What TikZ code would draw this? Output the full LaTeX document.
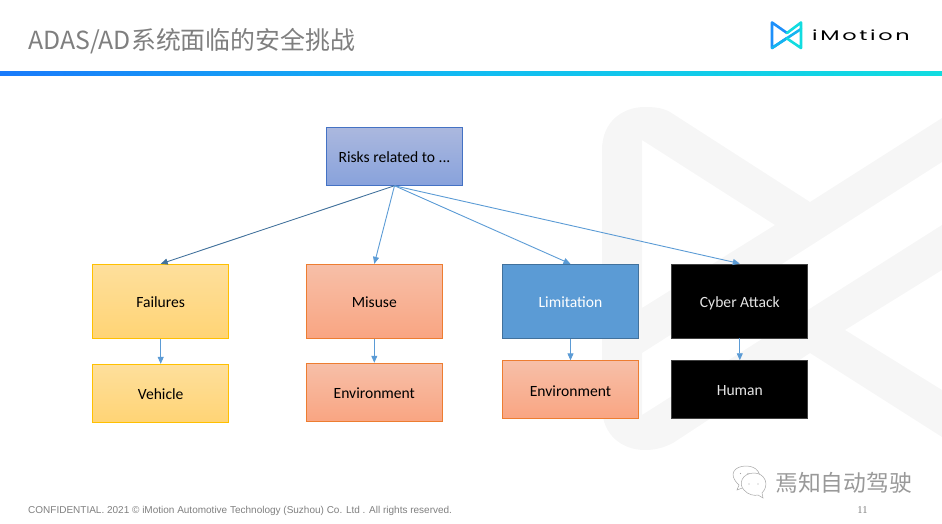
\documentclass[tikz,border=0pt]{standalone}
\usepackage{fontspec}
\setmainfont{Carlito}
\newfontfamily\cjkfont{Noto Sans CJK SC}
\newfontfamily\footfont{Liberation Sans}
\newfontfamily\logofont{Poppins}
\usetikzlibrary{arrows.meta,positioning}

\definecolor{bandgray}{HTML}{F6F6F6}
\definecolor{linkblue}{HTML}{5B9BD5}
\definecolor{linkdark}{HTML}{41719C}
\definecolor{textgray}{HTML}{7F7F7F}
\definecolor{logoleft}{HTML}{1E90FA}
\definecolor{logomid}{HTML}{14B4F0}
\definecolor{logoright}{HTML}{12DCE0}
\definecolor{yellowline}{HTML}{FFC000}
\definecolor{yellowtop}{HTML}{FEDF9C}
\definecolor{yellowbot}{HTML}{FFD475}
\definecolor{orangeline}{HTML}{ED7D31}
\definecolor{orangetop}{HTML}{F7BFA8}
\definecolor{orangebot}{HTML}{F9A582}
\definecolor{topline}{HTML}{4472C4}
\definecolor{toptop}{HTML}{ABB8DE}
\definecolor{topbot}{HTML}{88A2DC}

\tikzset{
  riskbox/.style={draw,line width=0.9pt,minimum width=136pt,inner sep=0pt,align=center,text height=13pt,text depth=0.5pt,font=\fontsize{15.6}{17}\selectfont},
  bluebox/.style={riskbox,draw=linkdark,fill=linkblue,text=white},
  blackbox/.style={riskbox,draw=black!75,fill=black,text=white!90!black},
  yellowbox/.style={riskbox,draw=yellowline,top color=yellowtop,bottom color=yellowbot},
  orangebox/.style={riskbox,draw=orangeline,top color=orangetop,bottom color=orangebot},
  topbox/.style={riskbox,draw=topline,top color=toptop,bottom color=topbot},
  link/.style={draw=linkblue,line width=0.9pt,-{Triangle[length=7pt,width=6pt]}},
  logoline/.style={line width=2.6pt,line join=round,line cap=round},
}

\begin{document}
\begin{tikzpicture}[x=1pt,y=-1pt]
\useasboundingbox (0,0) rectangle (942,524);

% watermark
\fill[bandgray,even odd rule]
  (602,300) -- (602,150) .. controls (602,122) and (622,107) .. (645,107)
  .. controls (655,107) and (663,108) .. (670,112) -- (810,202)
  -- (942,118) -- (942,162) -- (642,353) -- (642,415) -- (942,225) -- (942,270)
  -- (845,330) -- (942,390) -- (942,437) -- (810,353) -- (673,443)
  .. controls (663,448) and (655,450) .. (645,450)
  .. controls (622,450) and (602,435) .. (602,407) -- cycle
  (642,140) -- (775,225) -- (642,308) -- cycle;

% header
\node[anchor=west,inner sep=0pt,text=textgray,font=\cjkfont\fontsize{24.9}{27}\selectfont] (title) at (28,41) {ADAS/AD系统面临的安全挑战};
\shade[left color=logoleft!85!blue,right color=logoright,middle color=logomid!90!cyan] (0,71.5) rectangle (942,76);

% logo
\draw[logoline,logoleft] (787,33) -- (772,22.5) -- (772,48) -- (787,38);
\draw[logoline,logomid] (772,48) -- (801,29);
\draw[logoline,logoright] (787,33) -- (801,22.5) -- (801,48) -- (787,38.5);
\node[anchor=west,inner sep=0pt,font=\logofont\fontsize{14}{16}\selectfont] (brand) at (812,35.5) {\scalebox{1.6}[1]{\addfontfeature{LetterSpace=12}iMotion}};

% boxes
\node[topbox,minimum height=58pt] (risks) at (394.5,156.3) {Risks related to ...};

\node[yellowbox,minimum height=74pt] (failures) at (160.7,301.3) {Failures};
\node[yellowbox,minimum height=58pt] (vehicle) at (160.7,393.3) {Vehicle};

\node[orangebox,minimum height=74pt] (misuse) at (374.3,301.3) {Misuse};
\node[orangebox,minimum height=58pt] (envone) at (374.3,392.2) {Environment};

\node[bluebox,minimum height=74pt] (limitation) at (570.5,301.3) {Limitation};
\node[orangebox,minimum height=58pt] (envtwo) at (570.5,389.8) {Environment};

\node[blackbox,minimum height=74pt] (cyber) at (739.8,301) {Cyber Attack};
\node[blackbox,minimum height=58pt] (human) at (739.8,389.7) {Human};

% links
\draw[link,draw=linkdark] (risks.south) -- (failures.north);
\draw[link] (risks.south) -- (misuse.north);
\draw[link] (risks.south) -- (limitation.north);
\draw[link] (risks.south) -- (cyber.north);
\draw[link] (failures) -- (vehicle);
\draw[link] (misuse) -- (envone);
\draw[link] (limitation) -- (envtwo);
\draw[link] (cyber) -- (human);

% footer
\draw[gray!70,line width=0.5pt,fill=white] (737,490) -- (739,485) .. controls (727,474) and (735,466) .. (746,466) .. controls (757,466) and (763,474) .. (758,484) -- (745,487) -- cycle;
\draw[gray!70,line width=0.5pt,fill=white] (763,498) -- (762,493) .. controls (770,485) and (765,473) .. (754,473) .. controls (742,473) and (738,484) .. (744,490) .. controls (748,495) and (755,496) .. (758,495) -- cycle;
\fill[gray!70] (740.5,473.5) circle (0.7) (748,473.5) circle (0.7) (749,484) circle (0.7) (758,484) circle (0.7);
\node[anchor=west,inner sep=0pt,text=gray!80,font=\cjkfont\fontsize{22.8}{25}\selectfont] (wechat) at (775,483) {焉知自动驾驶};
\node[anchor=west,inner sep=0pt,text=textgray,font=\footfont\fontsize{10}{11}\selectfont] (confidential) at (28,511) {CONFIDENTIAL. 2021 © iMotion Automotive Technology (Suzhou) Co. Ltd . All rights reserved.};
\node[inner sep=0pt,text=textgray,font=\fontspec{Liberation Serif}\fontsize{10.5}{12}\selectfont] (pagenum) at (862.5,510) {11};
\end{tikzpicture}
\end{document}
